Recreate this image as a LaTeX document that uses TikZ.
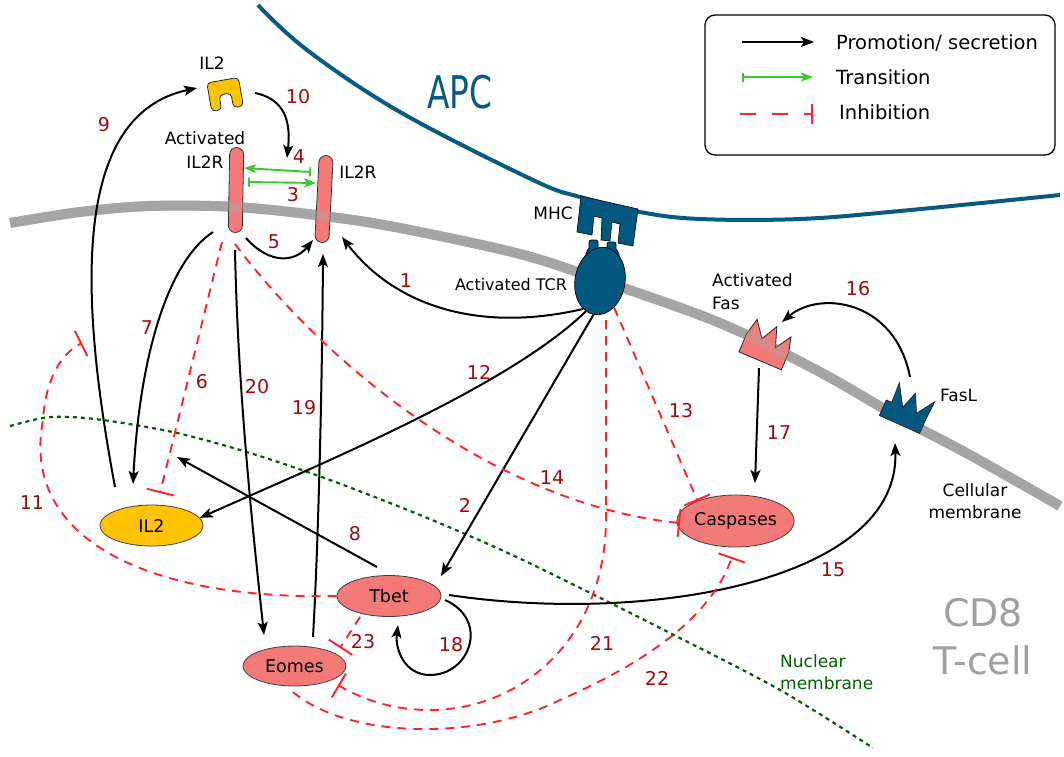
\documentclass[tikz,border=0pt]{standalone}
\usepackage{fontspec}
\setmainfont{DejaVu Sans}
\usetikzlibrary{arrows.meta,shapes.geometric}
\definecolor{salmon}{RGB}{244,122,122}
\definecolor{gold}{RGB}{255,196,0}
\definecolor{tblue}{RGB}{4,88,128}
\definecolor{apcblue}{RGB}{8,90,130}
\definecolor{numred}{RGB}{160,10,10}
\definecolor{inhred}{RGB}{255,35,35}
\definecolor{trgreen}{RGB}{55,200,45}
\definecolor{nucgreen}{RGB}{0,95,0}
\definecolor{memgray}{RGB}{165,165,165}
\definecolor{cdgray}{RGB}{160,160,160}
\begin{document}
\begin{tikzpicture}[x=1pt,y=-1pt,
  font=\fontsize{17}{22}\selectfont,
  prom/.style={draw=black, line width=2pt, -{Stealth[length=13pt,width=10pt,inset=3pt]}},
  trans/.style={draw=trgreen, line width=1.9pt, {Bar[width=9pt]}-{Stealth[length=12pt,width=9pt,inset=3pt]}},
  inh/.style={draw=inhred, line width=1.9pt, dash pattern=on 9pt off 7pt, -{Bar[width=28pt]}},
  num/.style={text=numred, font=\fontsize{19}{22}\selectfont, inner sep=0pt},
  blob/.style={ellipse, draw=black!75, line width=0.8pt, inner sep=0pt, font=\fontsize{17.5}{20}\selectfont},
  rec/.style={rectangle, rounded corners=7pt, draw=black!80, line width=0.8pt, fill=salmon, minimum width=14pt, inner sep=0pt},
  mol/.style={draw=black!85, line width=0.8pt},
  memb/.style={draw=memgray, line width=10pt},
]
\useasboundingbox (0,0) rectangle (1064,756);
\fill[white] (0,0) rectangle (1064,756);

% APC membrane
\draw[apcblue, line width=4pt] plot[smooth,tension=0.6] coordinates {(258,5) (307,50) (400,112) (533,180) (580,197) (640,212) (700,219) (800,219) (900,211) (1060,195)};
% cell membrane
\draw[memb] plot[smooth,tension=0.55] coordinates {(10,223) (80,212) (150,206) (236,207) (324,216) (400,228) (520,254) (600,280) (720,323) (820,372) (900,418) (970,455) (1060,506)};
% nuclear membrane
\draw[nucgreen, line width=2.2pt, dash pattern=on 4pt off 4pt] plot[smooth,tension=0.55] coordinates {(10,426) (43,418) (70,417) (110,421) (177,433) (250,453) (330,480) (420,515) (497,548) (560,578) (670,633) (780,690) (873,748)};

% salmon receptors
\node[rec, rotate=-1, minimum height=85pt] (ail2r) at (236,190) {};
\node[rec, rotate=-3, minimum height=87pt] (il2r) at (324,199) {};
\node[minimum width=46pt, minimum height=30pt, inner sep=0pt] (fas) at (766,347) {};
\begin{scope}[shift={(fas.center)}, rotate=-23]
\filldraw[mol, fill=salmon] (-23,15) -- (23,15) -- (23,-4) -- (19,-19) -- (9,-3) -- (2,-23) -- (-7,-6) -- (-19,-22) -- (-23,-5) -- cycle;
\end{scope}
% membrane seen through receptors
\draw[memb, draw opacity=0.35] plot[smooth,tension=0.55] coordinates {(10,223) (80,212) (150,206) (236,207) (324,216) (400,228) (520,254) (600,280) (720,323) (820,372) (900,418) (970,455) (1060,506)};

% MHC
\filldraw[fill=tblue, draw=black, line width=0.6pt] (581,196) -- (638,209) -- (633,246) -- (618,243) -- (620,224) -- (612,222) -- (610,241) -- (601,240) -- (602,218) -- (594,216) -- (592,235) -- (577,232) -- cycle;
% TCR
\filldraw[fill=tblue, draw=black, line width=0.6pt, rounded corners=2pt] (586,262) -- (586,251) -- (589,250) -- (589,240) -- (598,240) -- (598,262) -- cycle;
\filldraw[fill=tblue, draw=black, line width=0.6pt, rounded corners=2pt] (607,262) -- (607,242) -- (616,242) -- (616,251) -- (619,252) -- (619,262) -- cycle;
\node[ellipse, fill=tblue, draw=black, line width=0.7pt, minimum width=50pt, minimum height=68pt, inner sep=0pt, rotate=-10] (tcr) at (600,281) {};

% FasL
\node[minimum width=46pt, minimum height=30pt, inner sep=0pt] (fasl) at (903,414) {};
\begin{scope}[shift={(fasl.center)}, rotate=-24]
\filldraw[mol, fill=tblue] (-21,11) -- (23,11) -- (23,-4) -- (24,-24) -- (12,-6) -- (3,-24) -- (-3,-6) -- (-16,-27) -- (-15,-6) -- (-21,-6) -- cycle;
\end{scope}

% IL2 molecule
\node[minimum size=32pt, inner sep=0pt] (il2m) at (225,94) {};
\begin{scope}[shift={(il2m.center)}, rotate=10]
\filldraw[mol, fill=gold, rounded corners=4pt] (-16,-14) -- (16,-14) -- (16,15) -- (6,15) -- (6,0) -- (-6,0) -- (-6,15) -- (-16,15) -- cycle;
\end{scope}

% ellipse nodes
\node[blob, fill=gold, minimum width=103pt, minimum height=41pt] (il2) at (151.5,525.5) {IL2};
\node[blob, fill=salmon, minimum width=104pt, minimum height=41pt] (tbet) at (389,596) {Tbet};
\node[blob, fill=salmon, minimum width=103pt, minimum height=40pt] (eomes) at (294.5,666) {Eomes};
\node[blob, fill=salmon, minimum width=99pt, minimum height=52pt] (casp) at (735.5,521) {Caspases};

% connector end points
\coordinate (e1) at (342,237);
\coordinate (e2) at (441,576);
\coordinate (s14) at (235,244);
\coordinate (e14) at (680,523);
\coordinate (s6) at (222,242);
\coordinate (e6) at (160,493);
\coordinate (s7) at (213,232);
\coordinate (e7) at (133,484);
\coordinate (s20) at (235,250);
\coordinate (e20) at (264,635);
\coordinate (s19) at (313,637);
\coordinate (e19) at (323,254);
\coordinate (s5) at (246,238);
\coordinate (e5) at (313,240);
\coordinate (s10) at (255,93);
\coordinate (e10) at (287,158);
\coordinate (s9) at (115,487);
\coordinate (e9) at (197,88);
\coordinate (s8) at (377,567);
\coordinate (e8) at (177,457);
\coordinate (e11) at (82,343);
\coordinate (s15) at (449,595);
\coordinate (e15) at (895,443);
\coordinate (s16) at (910,377);
\coordinate (e16) at (782,322);
\coordinate (s17) at (759,368);
\coordinate (e17) at (755,483);
\coordinate (s18) at (445,600);
\coordinate (e18) at (398,625);
\coordinate (s21) at (606,320);
\coordinate (e21) at (338,685);
\coordinate (s22) at (293,692);
\coordinate (e22) at (732,557);
\coordinate (s23) at (360,617);
\coordinate (e23) at (340,648);
\coordinate (s4) at (311,172);
\coordinate (e4) at (244,168);
\coordinate (s3) at (248,182);
\coordinate (e3) at (316,183);

% promotion
\draw[prom] (tcr.249) .. controls (470,335) and (390,300) .. (e1);
\draw[prom] (tcr.269) -- (e2);
\draw[prom] (tcr.255) .. controls (510,385) and (330,460) .. (il2.9);
\draw[prom] (s5) .. controls (270,265) and (295,262) .. (e5);
\draw[prom] (s7) .. controls (170,260) and (140,350) .. (e7);
\draw[prom] (s20) .. controls (238,400) and (255,550) .. (e20);
\draw[prom] (s19) .. controls (318,550) and (322,400) .. (e19);
\draw[prom] (s10) .. controls (290,100) and (290,130) .. (e10);
\draw[prom] (s9) .. controls (80,300) and (70,115) .. (e9);
\draw[prom] (s8) -- (e8);
\draw[prom] (s15) .. controls (650,625) and (900,580) .. (e15);
\draw[prom] (s16) .. controls (895,300) and (820,290) .. (e16);
\draw[prom] (s17) -- (e17);
\draw[prom] (s18) .. controls (490,620) and (470,675) .. (430,675) .. controls (405,675) and (395,650) .. (e18);

% transitions
\draw[trans] (s4) -- (e4);
\draw[trans] (s3) -- (e3);

% inhibitions
\draw[inh] (tcr.-52) -- (casp.152);
\draw[inh] (s14) .. controls (330,370) and (500,505) .. (e14);
\draw[inh] (s6) -- (e6);
\draw[inh] (tbet.west) .. controls (150,600) and (20,540) .. (43,420) .. controls (45,385) and (58,355) .. (e11);
\draw[inh] (s21) -- (606,520) .. controls (605,640) and (520,710) .. (430,710) .. controls (390,710) and (360,698) .. (e21);
\draw[inh] (s22) .. controls (350,740) and (480,740) .. (560,700) .. controls (640,665) and (710,620) .. (e22);
\draw[inh] (s23) -- (e23);

% numbers
\node[num] (n1) at (406,281) {1};
\node[num] (n2) at (465,505) {2};
\node[num] (n3) at (293,195) {3};
\node[num] (n4) at (299,157) {4};
\node[num] (n5) at (274,242) {5};
\node[num] (n6) at (202,382) {6};
\node[num] (n7) at (147,328) {7};
\node[num] (n8) at (355,534) {8};
\node[num] (n9) at (104,125) {9};
\node[num] (n10) at (298,97) {10};
\node[num] (n11) at (32,503) {11};
\node[num] (n12) at (479,372) {12};
\node[num] (n13) at (681,411) {13};
\node[num] (n14) at (552,478) {14};
\node[num] (n15) at (833,570) {15};
\node[num] (n16) at (858,289) {16};
\node[num] (n17) at (779,433) {17};
\node[num] (n18) at (451,645) {18};
\node[num] (n19) at (304,408) {19};
\node[num] (n20) at (257,387) {20};
\node[num] (n21) at (602,643) {21};
\node[num] (n22) at (657,678) {22};
\node[num] (n23) at (363,642) {23};

% labels
\node (lil2m) at (212,63) {IL2};
\node[align=center, font=\fontsize{17}{24}\selectfont] (lail2r) at (205,150) {Activated\\IL2R};
\node (lil2r) at (358,172) {IL2R};
\node (lmhc) at (553,213) {MHC};
\node[font=\fontsize{16}{20}\selectfont] (ltcr) at (511,285) {Activated TCR};
\node[align=left, anchor=west, inner sep=0pt, font=\fontsize{17}{23}\selectfont] (lfas) at (712,292) {Activated\\Fas};
\node[anchor=west, inner sep=0pt] (lfasl) at (940,395) {FasL};
\node[align=center, font=\fontsize{17}{22}\selectfont] (lcell) at (975,501) {Cellular\\membrane};
\node[align=left, anchor=west, inner sep=0pt, text=nucgreen, font=\fontsize{17}{22}\selectfont] (lnuc) at (780,672) {Nuclear\\membrane};
\node[text=apcblue, font=\fontsize{45}{50}\selectfont, inner sep=0pt] (lapc) at (460,92) {\scalebox{0.73}[1]{APC}};
\node[text=cdgray, align=center, font=\fontsize{38}{48}\selectfont, inner sep=0pt] (lcd8) at (983,637) {CD8\\T-cell};

% legend
\node[draw=black, line width=1.3pt, rounded corners=10pt, minimum width=350pt, minimum height=140pt, inner sep=0pt] (legend) at (880,85) {};
\coordinate (lg1a) at (742,42);
\coordinate (lg1b) at (814,42);
\coordinate (lg2a) at (742,77);
\coordinate (lg2b) at (813,77);
\coordinate (lg3a) at (740,114);
\coordinate (lg3b) at (813,114);
\draw[prom] (lg1a) -- (lg1b);
\draw[trans] (lg2a) -- (lg2b);
\draw[draw=inhred, line width=1.9pt, dash pattern=on 16pt off 16pt, -{Bar[width=20pt]}] (lg3a) -- (lg3b);
\node[anchor=west, inner sep=0pt, font=\fontsize{19.5}{22}\selectfont] (lt1) at (836,43) {Promotion/ secretion};
\node[anchor=west, inner sep=0pt, font=\fontsize{19.5}{22}\selectfont] (lt2) at (836,77) {Transition};
\node[anchor=west, inner sep=0pt, font=\fontsize{19.5}{22}\selectfont] (lt3) at (839,112) {Inhibition};
\end{tikzpicture}
\end{document}
